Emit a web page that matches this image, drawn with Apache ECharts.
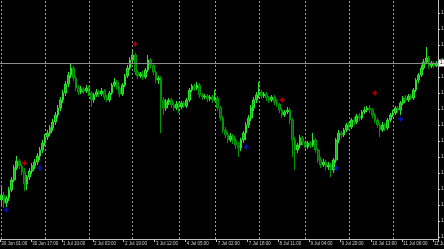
<!DOCTYPE html>
<html>
<head>
<meta charset="utf-8">
<script src="https://cdn.jsdelivr.net/npm/echarts@6/dist/echarts.min.js"></script>
<style>
html,body{margin:0;padding:0;background:#000;}
#chart{width:444px;height:249px;}
</style>
</head>
<body>
<div id="chart"></div>
<script>
// Time labels shown on the x axis (one every 12 bars)
const tickLabels = ["30 Jun 01:00","30 Jun 17:00","1 Jul 10:00","2 Jul 03:00","2 Jul 19:00","3 Jul 12:00","4 Jul 05:00","7 Jul 02:00","7 Jul 18:00","8 Jul 11:00","9 Jul 04:00","9 Jul 20:00","10 Jul 13:00","11 Jul 06:00","11 Jul 23:00"];
// Price tick labels on the right axis
const priceTicks = [1.3727,1.3711,1.3695,1.3679,1.3663,1.3647,1.3631,1.3615,1.3599,1.3583,1.3567,1.3551,1.3535,1.3519,1.3503];
// Bar index at which each new trading day begins (vertical separators)
const dayStarts = [0,17,34,51,69,83,100,118,135,152];

const openP = [1.3540,1.3545,1.3537,1.3542,1.3550,1.3560,1.3572,1.3579,1.3574,1.3568,
1.3556,1.3563,1.3569,1.3574,1.3578,1.3584,1.3590,1.3597,1.3603,1.3607,
1.3612,1.3618,1.3625,1.3632,1.3640,1.3647,1.3656,1.3665,1.3672,1.3662,
1.3652,1.3648,1.3651,1.3649,1.3652,1.3647,1.3640,1.3645,1.3648,1.3646,
1.3649,1.3643,1.3640,1.3647,1.3655,1.3658,1.3652,1.3646,1.3655,1.3664,
1.3672,1.3680,1.3685,1.3668,1.3664,1.3666,1.3663,1.3670,1.3680,1.3675,
1.3668,1.3660,1.3662,1.3640,1.3632,1.3638,1.3640,1.3635,1.3632,1.3636,
1.3633,1.3637,1.3634,1.3640,1.3650,1.3654,1.3652,1.3655,1.3645,1.3643,
1.3644,1.3641,1.3643,1.3640,1.3642,1.3632,1.3622,1.3610,1.3605,1.3600,
1.3604,1.3600,1.3595,1.3592,1.3600,1.3607,1.3615,1.3622,1.3632,1.3640,
1.3645,1.3648,1.3644,1.3646,1.3642,1.3640,1.3643,1.3638,1.3636,1.3630,
1.3625,1.3628,1.3630,1.3620,1.3600,1.3590,1.3595,1.3602,1.3598,1.3593,
1.3597,1.3595,1.3600,1.3590,1.3580,1.3575,1.3578,1.3573,1.3575,1.3570,
1.3580,1.3600,1.3607,1.3605,1.3610,1.3615,1.3613,1.3620,1.3618,1.3624,
1.3622,1.3628,1.3630,1.3632,1.3630,1.3625,1.3620,1.3615,1.3610,1.3615,
1.3612,1.3620,1.3625,1.3627,1.3632,1.3630,1.3637,1.3642,1.3640,1.3644,
1.3642,1.3650,1.3660,1.3665,1.3672,1.3678,1.3682,1.3674,1.3677,1.3674];
const closeP = [1.3545,1.3537,1.3542,1.3550,1.3560,1.3572,1.3579,1.3574,1.3568,1.3556,
1.3563,1.3569,1.3574,1.3578,1.3584,1.3590,1.3597,1.3603,1.3607,1.3612,
1.3618,1.3625,1.3632,1.3640,1.3647,1.3656,1.3665,1.3672,1.3662,1.3652,
1.3648,1.3651,1.3649,1.3652,1.3647,1.3640,1.3645,1.3648,1.3646,1.3649,
1.3643,1.3640,1.3647,1.3655,1.3658,1.3652,1.3646,1.3655,1.3664,1.3672,
1.3680,1.3685,1.3668,1.3664,1.3666,1.3663,1.3670,1.3680,1.3675,1.3668,
1.3660,1.3662,1.3640,1.3632,1.3638,1.3640,1.3635,1.3632,1.3636,1.3633,
1.3637,1.3634,1.3640,1.3650,1.3654,1.3652,1.3655,1.3645,1.3643,1.3644,
1.3641,1.3643,1.3640,1.3642,1.3632,1.3622,1.3610,1.3605,1.3600,1.3604,
1.3600,1.3595,1.3592,1.3600,1.3607,1.3615,1.3622,1.3632,1.3640,1.3645,
1.3648,1.3644,1.3646,1.3642,1.3640,1.3643,1.3638,1.3636,1.3630,1.3625,
1.3628,1.3630,1.3620,1.3600,1.3590,1.3595,1.3602,1.3598,1.3593,1.3597,
1.3595,1.3600,1.3590,1.3580,1.3575,1.3578,1.3573,1.3575,1.3570,1.3580,
1.3600,1.3607,1.3605,1.3610,1.3615,1.3613,1.3620,1.3618,1.3624,1.3622,
1.3628,1.3630,1.3632,1.3630,1.3625,1.3620,1.3615,1.3610,1.3615,1.3612,
1.3620,1.3625,1.3627,1.3632,1.3630,1.3637,1.3642,1.3640,1.3644,1.3642,
1.3650,1.3660,1.3665,1.3672,1.3678,1.3682,1.3674,1.3677,1.3674,1.3677];
const highP = [1.3554,1.3548,1.3544,1.3553,1.3563,1.3575,1.3584,1.3581,1.3576,1.3572,
1.3565,1.3572,1.3577,1.3581,1.3587,1.3593,1.3600,1.3606,1.3610,1.3615,
1.3621,1.3628,1.3635,1.3643,1.3650,1.3659,1.3668,1.3677,1.3674,1.3664,
1.3655,1.3654,1.3653,1.3655,1.3654,1.3649,1.3647,1.3651,1.3650,1.3652,
1.3651,1.3645,1.3649,1.3657,1.3662,1.3660,1.3654,1.3657,1.3666,1.3675,
1.3683,1.3691,1.3687,1.3670,1.3668,1.3669,1.3672,1.3685,1.3682,1.3677,
1.3670,1.3664,1.3664,1.3643,1.3641,1.3642,1.3642,1.3638,1.3639,1.3638,
1.3639,1.3639,1.3642,1.3652,1.3656,1.3656,1.3658,1.3657,1.3647,1.3646,
1.3646,1.3645,1.3645,1.3650,1.3644,1.3634,1.3624,1.3613,1.3608,1.3607,
1.3606,1.3602,1.3598,1.3602,1.3609,1.3618,1.3625,1.3635,1.3643,1.3648,
1.3658,1.3650,1.3648,1.3648,1.3644,1.3645,1.3645,1.3641,1.3637,1.3632,
1.3630,1.3633,1.3632,1.3622,1.3603,1.3597,1.3605,1.3604,1.3600,1.3599,
1.3599,1.3607,1.3602,1.3592,1.3583,1.3581,1.3580,1.3578,1.3577,1.3582,
1.3602,1.3610,1.3609,1.3612,1.3617,1.3618,1.3622,1.3623,1.3626,1.3627,
1.3630,1.3633,1.3634,1.3635,1.3632,1.3627,1.3622,1.3617,1.3618,1.3617,
1.3622,1.3627,1.3630,1.3634,1.3634,1.3639,1.3644,1.3645,1.3646,1.3646,
1.3652,1.3662,1.3667,1.3675,1.3681,1.3693,1.3684,1.3679,1.3679,1.3679];
const lowP = [1.3534,1.3532,1.3533,1.3539,1.3548,1.3558,1.3570,1.3571,1.3565,1.3549,
1.3550,1.3560,1.3566,1.3571,1.3575,1.3580,1.3587,1.3594,1.3600,1.3604,
1.3609,1.3615,1.3622,1.3629,1.3637,1.3644,1.3653,1.3662,1.3659,1.3649,
1.3645,1.3646,1.3646,1.3647,1.3644,1.3633,1.3637,1.3643,1.3643,1.3644,
1.3640,1.3638,1.3638,1.3645,1.3653,1.3650,1.3643,1.3644,1.3653,1.3662,
1.3670,1.3678,1.3665,1.3661,1.3662,1.3660,1.3661,1.3668,1.3672,1.3665,
1.3657,1.3656,1.3607,1.3625,1.3629,1.3635,1.3632,1.3629,1.3630,1.3627,
1.3631,1.3632,1.3632,1.3638,1.3648,1.3649,1.3650,1.3642,1.3640,1.3641,
1.3638,1.3639,1.3637,1.3639,1.3629,1.3619,1.3607,1.3602,1.3597,1.3598,
1.3596,1.3591,1.3583,1.3589,1.3597,1.3600,1.3612,1.3619,1.3629,1.3637,
1.3642,1.3641,1.3642,1.3639,1.3637,1.3638,1.3635,1.3633,1.3627,1.3622,
1.3623,1.3626,1.3616,1.3583,1.3570,1.3587,1.3592,1.3595,1.3590,1.3591,
1.3592,1.3593,1.3587,1.3577,1.3572,1.3573,1.3570,1.3570,1.3563,1.3567,
1.3577,1.3597,1.3602,1.3603,1.3608,1.3610,1.3611,1.3615,1.3616,1.3619,
1.3620,1.3626,1.3628,1.3627,1.3622,1.3617,1.3612,1.3603,1.3608,1.3609,
1.3610,1.3618,1.3623,1.3625,1.3627,1.3625,1.3635,1.3638,1.3638,1.3640,
1.3640,1.3648,1.3657,1.3663,1.3670,1.3676,1.3671,1.3672,1.3672,1.3673];

// Fractal-style arrow markers: bar index and price
const upFractalIdx = [9,52,109,145];
const upFractalPrice = [1.3577,1.3696,1.3640,1.3647];
const downFractalIdx = [2,15,95,130,155];
const downFractalPrice = [1.3530,1.3572,1.3593,1.3572,1.3621];

const categories = openP.map((_, i) => String(i));
const candleData = openP.map((o, i) => [o, closeP[i], lowP[i], highP[i]]);
const lastClose = closeP[closeP.length - 1];
const perLabel = 12;
const FONT = 'Liberation Sans';
const crossPath = 'path://M2,0 L4,0 L4,2 L6,2 L6,4 L4,4 L4,6 L2,6 L2,4 L0,4 L0,2 L2,2Z';

const chart = echarts.init(document.getElementById('chart'), null, {renderer: 'canvas'});
chart.setOption({
  animation: false,
  backgroundColor: '#000000',
  grid: {left: 0, right: 6, top: 0, bottom: 10, containLabel: false, outerBoundsMode: 'none'},
  xAxis: {
    type: 'category',
    data: categories,
    boundaryGap: true,
    axisLine: {onZero: false, lineStyle: {color: '#c0c0c0', width: 1}},
    axisTick: {show: true, interval: perLabel - 1, length: 3, lineStyle: {color: '#c0c0c0'}},
    axisLabel: {
      interval: perLabel - 1, align: 'left', margin: 2,
      color: '#d0d0d0', fontFamily: FONT, fontSize: 4.5,
      hideOverlap: false,
      formatter: (v, i) => tickLabels[Math.round(i / perLabel)] || ''
    },
    splitLine: {show: false}
  },
  yAxis: {
    type: 'value',
    position: 'right',
    min: 1.3501, max: 1.3740,
    scale: true,
    axisLine: {show: true, lineStyle: {color: '#c0c0c0', width: 1}},
    axisTick: {show: true, length: 2, customValues: priceTicks, lineStyle: {color: '#c0c0c0'}},
    axisLabel: {
      customValues: priceTicks, margin: 3, color: '#d0d0d0',
      fontFamily: FONT, fontSize: 4.5, hideOverlap: false,
      formatter: v => v.toFixed(4)
    },
    splitLine: {show: false}
  },
  series: [
    {
      type: 'line', data: [], z: 1, silent: true,
      markLine: {
        silent: true, symbol: ['none', 'none'], label: {show: false},
        lineStyle: {color: '#9a9a9a', width: 1, type: [2, 2]},
        data: dayStarts.map(i => ({xAxis: i}))
      }
    },
    {
      type: 'line', data: [], z: 1, silent: true,
      markLine: {
        silent: true, symbol: ['none', 'none'], precision: 4,
        lineStyle: {color: '#8c8c8c', width: 1, type: 'solid'},
        label: {
          show: true, position: 'end', distance: 1,
          formatter: p => Number(p.value).toFixed(4),
          backgroundColor: '#ffffff', color: '#000000',
          fontFamily: FONT, fontSize: 4.5, padding: [1, 1]
        },
        data: [{yAxis: lastClose}]
      }
    },
    {
      type: 'candlestick', z: 2,
      data: candleData,
      barWidth: '85%',
      itemStyle: {
        color: '#14bc14', color0: '#006200',
        borderColor: '#2ee02e', borderColor0: '#009600', borderWidth: 1
      }
    },
    {
      type: 'scatter', z: 3, symbol: crossPath, symbolSize: 5,
      itemStyle: {color: '#e00000'},
      data: upFractalIdx.map((i, k) => [i, upFractalPrice[k]])
    },
    {
      type: 'scatter', z: 3, symbol: crossPath, symbolSize: 5,
      itemStyle: {color: '#1414e6'},
      data: downFractalIdx.map((i, k) => [i, downFractalPrice[k]])
    }
  ]
});
</script>
</body>
</html>
